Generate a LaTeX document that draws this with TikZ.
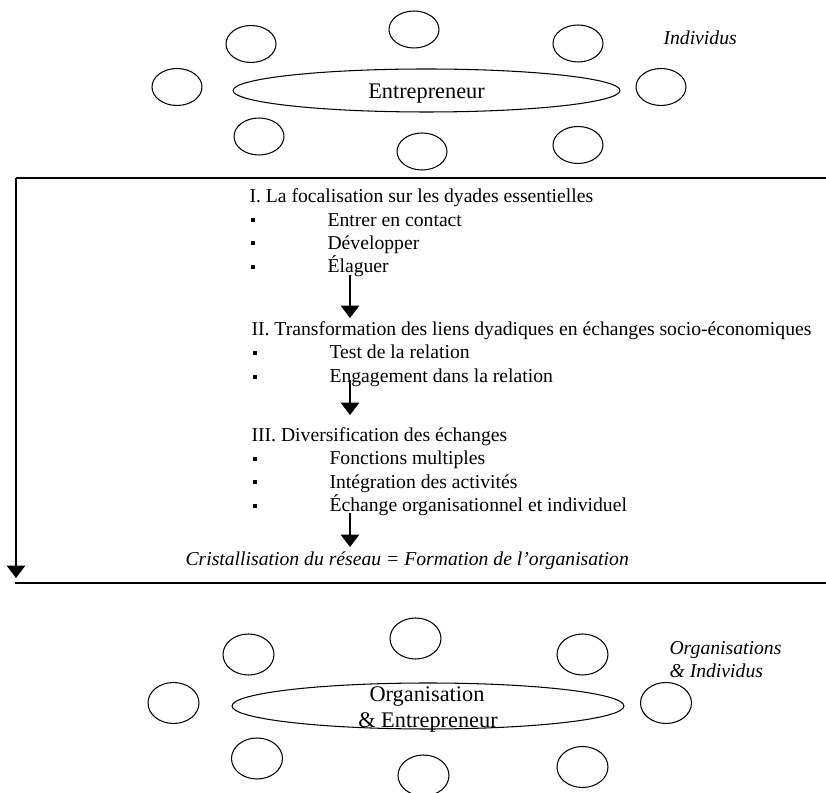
\documentclass[tikz,border=0pt]{standalone}
\usepackage{fontspec}
\setmainfont{Liberation Serif}
\usetikzlibrary{shapes.geometric,arrows.meta}

\begin{document}
\begin{tikzpicture}[x=0.02cm,y=-0.02cm,line width=0.6pt,
  petit/.style={ellipse,draw,minimum width=1cm,minimum height=0.74cm,inner sep=0},
  grand/.style={ellipse,draw,minimum width=7.74cm,minimum height=0.86cm,inner sep=0},
  titre/.style={anchor=base,inner sep=0,font=\fontsize{12.7}{15}\selectfont},
  texte/.style={anchor=base west,inner sep=0,font=\fontsize{11.2}{13}\selectfont},
  puce/.style={fill,inner sep=0,minimum size=2.8pt},
  fleche/.style={-{Triangle[width=10.5pt,length=7pt]}}]

  \useasboundingbox (0,0) rectangle (826,793);
  \clip (0,0) rectangle (826,793);

  % individus autour de l'entrepreneur
  \node[grand] (ent) at (426.5,90.5) {};
  \node[titre] (entlab) at (426.5,99) {Entrepreneur};
  \node[petit] (i1) at (251,44) {};
  \node[petit] (i2) at (414,29.5) {};
  \node[petit] (i3) at (578,43.5) {};
  \node[petit] (i4) at (177,87) {};
  \node[petit] (i5) at (661,87) {};
  \node[petit] (i6) at (259,136.5) {};
  \node[petit] (i7) at (422,151.5) {};
  \node[petit] (i8) at (578,145) {};
  \node[texte,font=\fontsize{11.2}{13}\selectfont\itshape] (ind) at (663,45) {Individus};

  % cadre
  \coordinate (hg) at (16,178);
  \coordinate (hd) at (826,178);
  \coordinate (bas) at (16,578);
  \coordinate (lg) at (15,583);
  \coordinate (ld) at (826,583);
  \draw[line width=1.1pt] (hd) -- (hg);
  \draw[fleche] (hg) -- (bas);
  \draw[line width=1.1pt] (lg) -- (ld);

  % etapes
  \node[texte] (t1) at (249,203) {I. La focalisation sur les dyades essentielles};
  \node[texte] (i1a) at (327,226.5) {Entrer en contact};
  \node[texte] (i1b) at (327,250) {Développer};
  \node[texte] (i1c) at (327,273) {Élaguer};
  \node[texte] (t2) at (251,336) {II. Transformation des liens dyadiques en échanges socio-économiques};
  \node[texte] (i2a) at (329,359) {Test de la relation};
  \node[texte] (i2b) at (329,382.5) {Engagement dans la relation};
  \node[texte] (t3) at (251,442) {III. Diversification des échanges};
  \node[texte] (i3a) at (329,465) {Fonctions multiples};
  \node[texte] (i3b) at (329,488.5) {Intégration des activités};
  \node[texte] (i3c) at (329,512) {Échange organisationnel et individuel};
  \node[texte,font=\fontsize{11.2}{13}\selectfont\itshape] (cris) at (185,566)
    {Cristallisation du réseau = Formation de l’organisation};

  \foreach \y in {220,243,267} \node[puce] at (253,\y) {};
  \foreach \y in {353,377,459,482,506} \node[puce] at (255,\y) {};

  \coordinate (f1) at (350,275);
  \coordinate (f1e) at (350,318);
  \coordinate (f2) at (350,380);
  \coordinate (f2e) at (350,415);
  \coordinate (f3) at (350,513);
  \coordinate (f3e) at (350,547);
  \draw[fleche] (f1) -- (f1e);
  \draw[fleche] (f2) -- (f2e);
  \draw[fleche] (f3) -- (f3e);

  % organisations et individus
  \tikzset{petit/.append style={minimum width=1.02cm,minimum height=0.82cm}}
  \node[grand,minimum width=7.84cm,minimum height=0.92cm] (org) at (428,706) {};
  \node[titre] (orglab) at (427,702) {Organisation};
  \node[titre] (entlab2) at (428,728) {\& Entrepreneur};
  \node[petit] (o1) at (248.5,654.5) {};
  \node[petit] (o2) at (415.5,638.5) {};
  \node[petit] (o3) at (582.5,654.5) {};
  \node[petit] (o4) at (173.5,703) {};
  \node[petit] (o5) at (666,703) {};
  \node[petit] (o6) at (257,758.5) {};
  \node[petit] (o7) at (423.5,775.5) {};
  \node[petit] (o8) at (582.5,767) {};
  \node[texte,font=\fontsize{11.2}{13}\selectfont\itshape] (orgs) at (669,655) {Organisations};
  \node[texte,font=\fontsize{11.2}{13}\selectfont\itshape] (orgsind) at (669,678) {\& Individus};
\end{tikzpicture}
\end{document}
